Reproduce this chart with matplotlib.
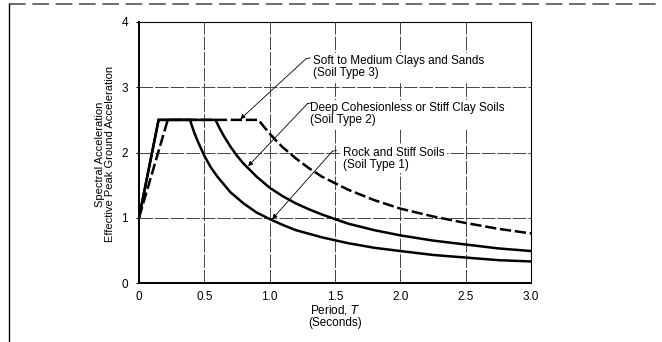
import numpy as np
import matplotlib.pyplot as plt
from matplotlib.lines import Line2D

plt.rcParams['font.family'] = ['Liberation Sans', 'DejaVu Sans']

# soil type 1 - rock and stiff soils
t1 = [0.0, 0.15, 0.39, 0.42, 0.45, 0.5, 0.55, 0.6, 0.7, 0.8, 0.9, 1.0, 1.1, 1.2, 1.4,
      1.6, 1.8, 2.0, 2.25, 2.5, 2.75, 3.0]
sa1 = [1.0, 2.5, 2.5, 2.32, 2.17, 1.95, 1.77, 1.63, 1.39, 1.22, 1.08, 0.98, 0.89, 0.81, 0.70,
       0.61, 0.54, 0.49, 0.43, 0.39, 0.35, 0.33]

# soil type 2 - deep cohesionless or stiff clay soils
t2 = [0.0, 0.15, 0.585, 0.62, 0.65, 0.7, 0.75, 0.8, 0.9, 1.0, 1.1, 1.2, 1.3, 1.4, 1.6,
      1.8, 2.0, 2.25, 2.5, 2.75, 3.0]
sa2 = [1.0, 2.5, 2.5, 2.36, 2.25, 2.09, 1.95, 1.83, 1.63, 1.46, 1.33, 1.22, 1.13, 1.05, 0.91,
       0.81, 0.73, 0.65, 0.59, 0.53, 0.49]

# soil type 3 - soft to medium clays and sands
t3 = [0.0, 0.22, 0.915, 0.95, 1.0, 1.05, 1.1, 1.2, 1.3, 1.4, 1.5, 1.6, 1.8, 2.0, 2.25,
      2.5, 2.75, 3.0]
sa3 = [1.0, 2.5, 2.5, 2.41, 2.29, 2.18, 2.08, 1.91, 1.76, 1.63, 1.53, 1.43, 1.27, 1.14, 1.02,
       0.92, 0.83, 0.76]

xticks = [0, 0.5, 1.0, 1.5, 2.0, 2.5, 3.0]
xticklabels = ['0', '0.5', '1.0', '1.5', '2.0', '2.5', '3.0']
yticks = [0, 1, 2, 3, 4]

fig = plt.figure(figsize=(6.62, 3.42), dpi=100)
ax = fig.add_axes([139/662, 59/342, 392/662, 261/342])

# grid, rough scanned look
for x in xticks[1:-1]:
    ax.axvline(x, color='#444444', lw=0.7, ls=(0, (14, 2)), zorder=1)
for y in yticks[1:-1]:
    ax.axhline(y, color='#444444', lw=0.7, ls=(0, (14, 2)), zorder=1)

ax.plot(t1, sa1, color='black', lw=1.8, solid_joinstyle='miter', zorder=3)
ax.plot(t2, sa2, color='black', lw=1.8, solid_joinstyle='miter', zorder=3)
ax.plot(t3, sa3, color='black', lw=1.8, dashes=(4.5, 1.5), zorder=3)

ax.set_xlim(0, 3.0)
ax.set_ylim(0, 4)
ax.set_xticks(xticks)
ax.set_xticklabels(xticklabels)
ax.set_yticks(yticks)
ax.tick_params(axis='x', length=0, pad=6, labelsize=8.5)
ax.tick_params(axis='y', length=2, width=0.8, pad=6, labelsize=8.5)
for s in ['left', 'bottom']:
    ax.spines[s].set_linewidth(1.4)
for s in ['top', 'right']:
    ax.spines[s].set_linewidth(0.8)

# labels
fig.text(105/662, 1 - 154/342, 'Spectral Acceleration\nEffective Peak Ground Acceleration',
         rotation=90, ha='center', va='center', fontsize=8, linespacing=1.0)
fig.text(335/662, 1 - 316/342, 'Period, $\\mathit{T}$\n(Seconds)', ha='center', va='center',
         fontsize=8.5, linespacing=1.0)

# callouts
notes = [('Soft to Medium Clays and Sands\n(Soil Type 3)', (1.33, 3.49), (1.28, 3.44), (0.775, 2.51)),
         ('Deep Cohesionless or Stiff Clay Soils\n(Soil Type 2)', (1.31, 2.77), (1.29, 2.75), (0.835, 1.79)),
         ('Rock and Stiff Soils\n(Soil Type 1)', (1.56, 2.09), (1.48, 2.02), (1.02, 0.98))]
for txt, tpos, start, tip in notes:
    ax.text(tpos[0], tpos[1], txt, ha='left', va='top', fontsize=8.5, linespacing=1.0, zorder=5,
            bbox=dict(facecolor='white', edgecolor='none', pad=1.5))
    ax.annotate('', xy=tip, xytext=start,
                arrowprops=dict(arrowstyle='-|>', lw=0.6, color='black', mutation_scale=7,
                                shrinkA=0, shrinkB=0), zorder=5)
    ax.plot([start[0], start[0] + 0.03], [start[1], start[1] + 0.01], color='black', lw=0.6, zorder=5)

# page frame
fig.add_artist(Line2D([9/662, 1.0], [1 - 3.5/342, 1 - 3.5/342], color='#555555', lw=1.2,
                      ls=(0, (10, 4))))
fig.add_artist(Line2D([9/662, 9/662], [1 - 3.5/342, 0.0], color='black', lw=1.0))

fig.savefig('out.png', dpi=100)
